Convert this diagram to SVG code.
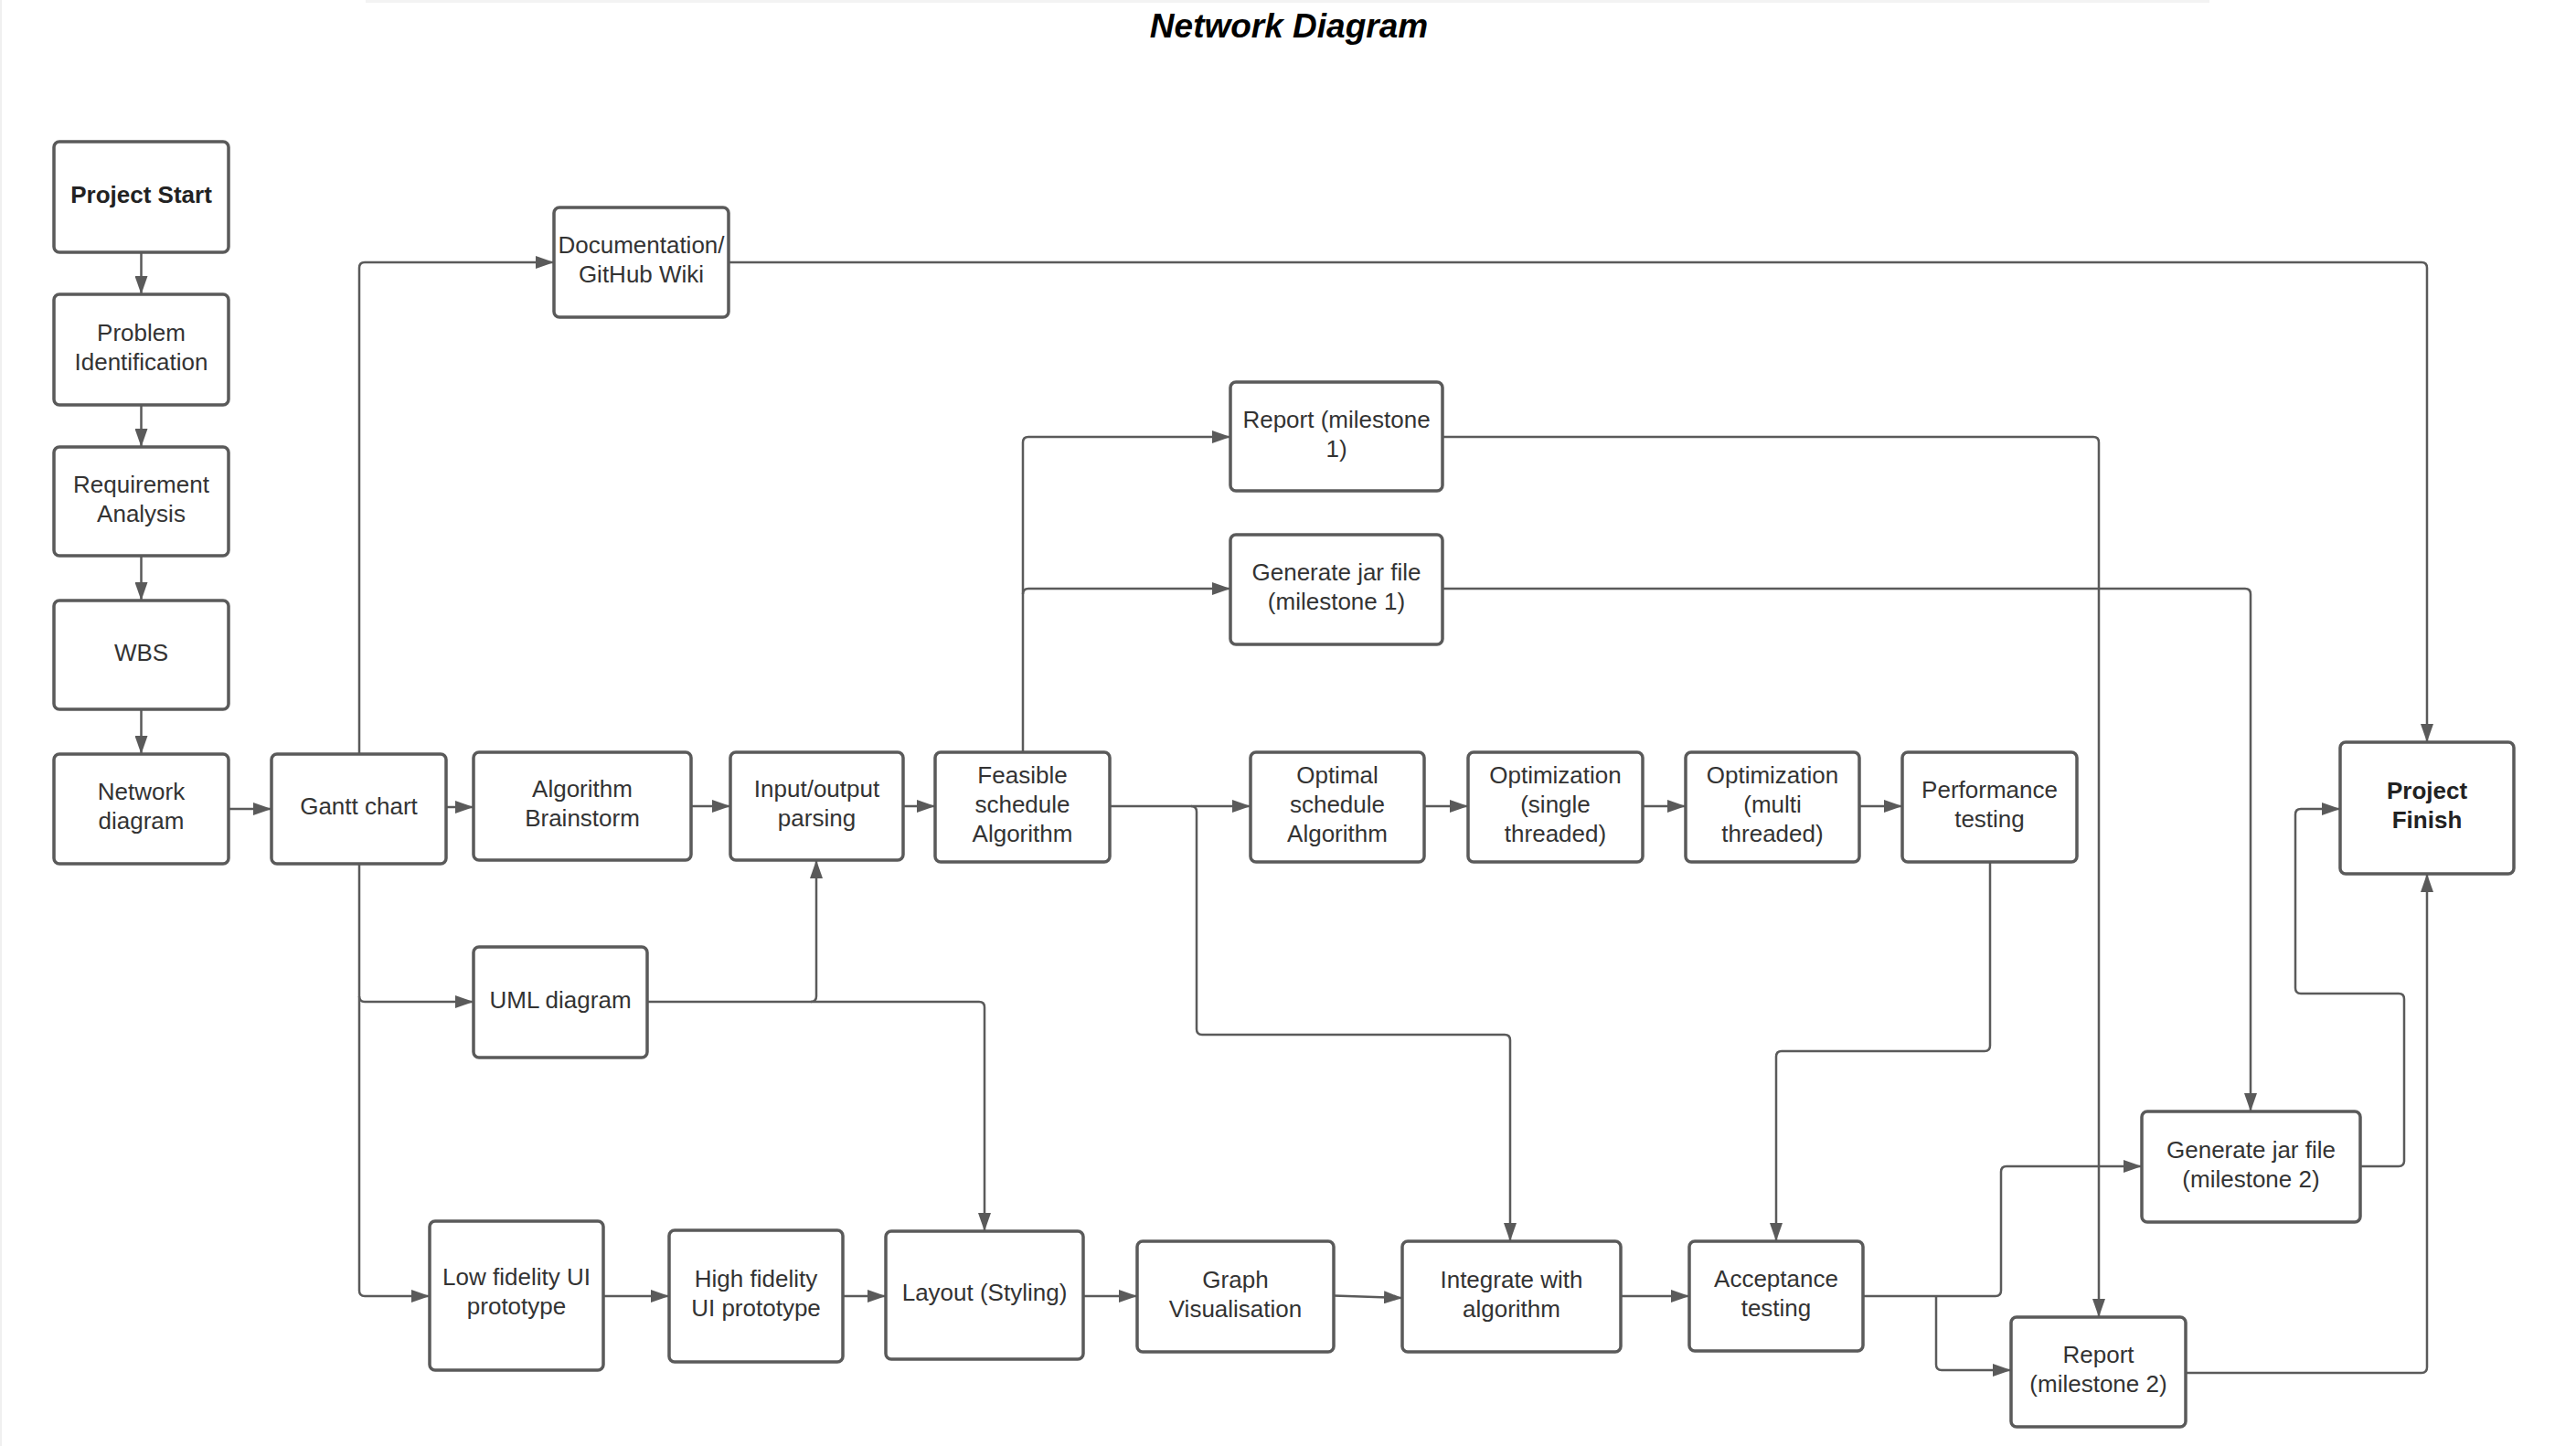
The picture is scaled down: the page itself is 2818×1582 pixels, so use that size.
<svg xmlns="http://www.w3.org/2000/svg" width="2818" height="1582" viewBox="0 0 2818 1582">
<defs>
<style>
.n rect{fill:#ffffff;stroke:#5a5a5a;stroke-width:3.5}
.n text{font-family:"Liberation Sans",Arial,sans-serif;font-size:26px;fill:#333333;text-anchor:middle}
.n text.b{font-weight:bold;fill:#222222}
.c path{fill:none;stroke:#5a5a5a;stroke-width:2.5;stroke-linejoin:round}
.c path.a{marker-end:url(#ah)}
.title{font-family:"Liberation Sans",Arial,sans-serif;font-size:37px;font-weight:bold;font-style:italic;fill:#000000;text-anchor:middle}
</style>
<marker id="ah" markerUnits="userSpaceOnUse" markerWidth="20" markerHeight="14" refX="20" refY="7" orient="auto">
<path d="M0,0 L20,7 L0,14 z" fill="#5a5a5a"/>
</marker>
</defs>
<rect x="0" y="0" width="2818" height="1582" fill="#ffffff"/>
<rect x="400" y="0" width="2017" height="3" fill="#f3f3f3"/>
<rect x="0" y="0" width="2" height="1582" fill="#f0f0f0"/>
<text class="title" x="1410" y="41">Network Diagram</text>

<g class="c" id="connectors">
<path class="a" d="M154.5,276 V322"/>
<path class="a" d="M154.5,443 V489"/>
<path class="a" d="M154.5,608 V657"/>
<path class="a" d="M154.5,776 V825"/>
<path class="a" d="M250,885 H297"/>
<path class="a" d="M488,883 H518"/>
<path class="a" d="M756,882 H799"/>
<path class="a" d="M988,882 H1023"/>
<path class="a" d="M1214,882 H1368"/>
<path class="a" d="M1558,882 H1606"/>
<path class="a" d="M1797,882 H1844"/>
<path class="a" d="M2034,882 H2081"/>
<path class="a" d="M393,825 V293 Q393,287 399,287 H606"/>
<path class="a" d="M393,945 V1090 Q393,1096 399,1096 H518"/>
<path class="a" d="M393,1090 V1412 Q393,1418 399,1418 H470"/>
<path class="a" d="M708,1096 H887 Q893,1096 893,1090 V941"/>
<path class="a" d="M887,1096 H1071 Q1077,1096 1077,1102 V1347"/>
<path class="a" d="M1119,823 V484 Q1119,478 1125,478 H1346"/>
<path class="a" d="M1119,650 Q1119,644 1125,644 H1346"/>
<path class="a" d="M1303,882 Q1309,882 1309,888 V1126 Q1309,1132 1315,1132 H1646 Q1652,1132 1652,1138 V1358"/>
<path class="a" d="M660,1418 H732"/>
<path class="a" d="M922,1418 H969"/>
<path class="a" d="M1185,1418 H1244"/>
<path class="a" d="M1459,1417.5 L1534,1420"/>
<path class="a" d="M1773,1418 H1848"/>
<path class="a" d="M2177,943 V1144 Q2177,1150 2171,1150 H1949 Q1943,1150 1943,1156 V1358"/>
<path class="a" d="M2038,1418 H2183 Q2189,1418 2189,1412 V1282 Q2189,1276 2195,1276 H2343"/>
<path class="a" d="M2118,1418 V1493 Q2118,1499 2124,1499 H2200"/>
<path class="a" d="M1578,478 H2290 Q2296,478 2296,484 V1441"/>
<path class="a" d="M1578,644 H2456 Q2462,644 2462,650 V1216"/>
<path class="a" d="M796,287 H2649 Q2655,287 2655,293 V812"/>
<path class="a" d="M2582,1276 H2624 Q2630,1276 2630,1270 V1093 Q2630,1087 2624,1087 H2517 Q2511,1087 2511,1081 V891 Q2511,885 2517,885 H2560"/>
<path class="a" d="M2391,1502 H2649 Q2655,1502 2655,1496 V956"/>
</g>

<g class="n" id="project-start"><rect x="59" y="155" width="191" height="121" rx="6"/><text class="b" x="154.5" y="221.5">Project Start</text></g>
<g class="n" id="problem-identification"><rect x="59" y="322" width="191" height="121" rx="6"/><text x="154.5" y="372.5">Problem</text><text x="154.5" y="404.5">Identification</text></g>
<g class="n" id="requirement-analysis"><rect x="59" y="489" width="191" height="119" rx="6"/><text x="154.5" y="538.5">Requirement</text><text x="154.5" y="570.5">Analysis</text></g>
<g class="n" id="wbs"><rect x="59" y="657" width="191" height="119" rx="6"/><text x="154.5" y="722.5">WBS</text></g>
<g class="n" id="network-diagram"><rect x="59" y="825" width="191" height="120" rx="6"/><text x="154.5" y="875">Network</text><text x="154.5" y="907">diagram</text></g>
<g class="n" id="gantt-chart"><rect x="297" y="825" width="191" height="120" rx="6"/><text x="392.5" y="891">Gantt chart</text></g>
<g class="n" id="algorithm-brainstorm"><rect x="518" y="823" width="238" height="118" rx="6"/><text x="637" y="872">Algorithm</text><text x="637" y="904">Brainstorm</text></g>
<g class="n" id="input-output-parsing"><rect x="799" y="823" width="189" height="118" rx="6"/><text x="893.5" y="872">Input/output</text><text x="893.5" y="904">parsing</text></g>
<g class="n" id="feasible-schedule"><rect x="1023" y="823" width="191" height="120" rx="6"/><text x="1118.5" y="857">Feasible</text><text x="1118.5" y="889">schedule</text><text x="1118.5" y="921">Algorithm</text></g>
<g class="n" id="optimal-schedule"><rect x="1368" y="823" width="190" height="120" rx="6"/><text x="1463" y="857">Optimal</text><text x="1463" y="889">schedule</text><text x="1463" y="921">Algorithm</text></g>
<g class="n" id="optimization-single"><rect x="1606" y="823" width="191" height="120" rx="6"/><text x="1701.5" y="857">Optimization</text><text x="1701.5" y="889">(single</text><text x="1701.5" y="921">threaded)</text></g>
<g class="n" id="optimization-multi"><rect x="1844" y="823" width="190" height="120" rx="6"/><text x="1939" y="857">Optimization</text><text x="1939" y="889">(multi</text><text x="1939" y="921">threaded)</text></g>
<g class="n" id="performance-testing"><rect x="2081" y="823" width="191" height="120" rx="6"/><text x="2176.5" y="873">Performance</text><text x="2176.5" y="905">testing</text></g>
<g class="n" id="project-finish"><rect x="2560" y="812" width="190" height="144" rx="6"/><text class="b" x="2655" y="874">Project</text><text class="b" x="2655" y="906">Finish</text></g>
<g class="n" id="documentation"><rect x="606" y="227" width="191" height="120" rx="6"/><text x="701.5" y="277">Documentation/</text><text x="701.5" y="309">GitHub Wiki</text></g>
<g class="n" id="report-m1"><rect x="1346" y="418" width="232" height="119" rx="6"/><text x="1462" y="467.5">Report (milestone</text><text x="1462" y="499.5">1)</text></g>
<g class="n" id="jar-m1"><rect x="1346" y="585" width="232" height="120" rx="6"/><text x="1462" y="635">Generate jar file</text><text x="1462" y="667">(milestone 1)</text></g>
<g class="n" id="uml-diagram"><rect x="518" y="1036" width="190" height="121" rx="6"/><text x="613" y="1102.5">UML diagram</text></g>
<g class="n" id="low-fidelity"><rect x="470" y="1336" width="190" height="163" rx="6"/><text x="565" y="1406">Low fidelity UI</text><text x="565" y="1438">prototype</text></g>
<g class="n" id="high-fidelity"><rect x="732" y="1346" width="190" height="144" rx="6"/><text x="827" y="1408">High fidelity</text><text x="827" y="1440">UI prototype</text></g>
<g class="n" id="layout-styling"><rect x="969" y="1347" width="216" height="140" rx="6"/><text x="1077" y="1423">Layout (Styling)</text></g>
<g class="n" id="graph-visualisation"><rect x="1244" y="1358" width="215" height="121" rx="6"/><text x="1351.5" y="1408.5">Graph</text><text x="1351.5" y="1440.5">Visualisation</text></g>
<g class="n" id="integrate"><rect x="1534" y="1358" width="239" height="121" rx="6"/><text x="1653.5" y="1408.5">Integrate with</text><text x="1653.5" y="1440.5">algorithm</text></g>
<g class="n" id="acceptance-testing"><rect x="1848" y="1358" width="190" height="120" rx="6"/><text x="1943" y="1408">Acceptance</text><text x="1943" y="1440">testing</text></g>
<g class="n" id="jar-m2"><rect x="2343" y="1216" width="239" height="121" rx="6"/><text x="2462.5" y="1266.5">Generate jar file</text><text x="2462.5" y="1298.5">(milestone 2)</text></g>
<g class="n" id="report-m2"><rect x="2200" y="1441" width="191" height="120" rx="6"/><text x="2295.5" y="1491">Report</text><text x="2295.5" y="1523">(milestone 2)</text></g>
</svg>
